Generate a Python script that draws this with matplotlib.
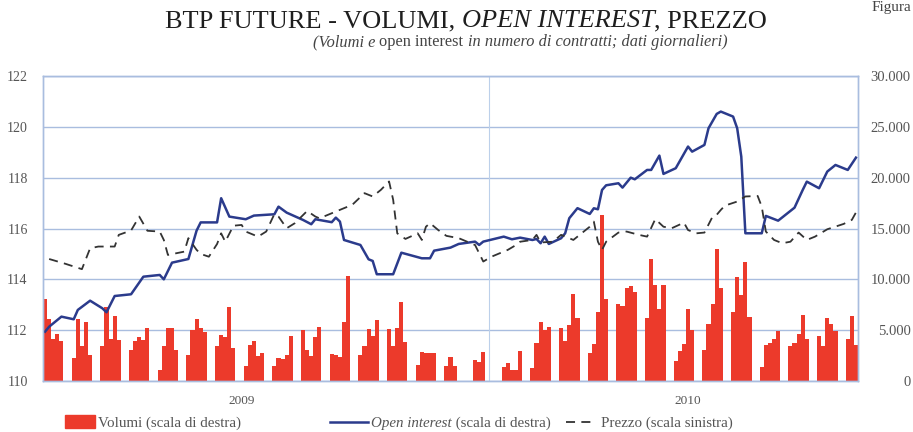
import numpy as np
import pandas as pd
import matplotlib
matplotlib.use('Agg')
import matplotlib.pyplot as plt
from matplotlib.lines import Line2D
from matplotlib.patches import Rectangle
from matplotlib.ticker import FuncFormatter, MultipleLocator

# volumi giornalieri (contratti), lun-ven, nan = mercato chiuso
volumi = [
    8100, 6060, 4140, 4600, 3900,
    2250, 6120, 3400, 5830, 2580,
    3480, 7300, 4140, 6390, 4070,
    3080, 3970, 4340, 4070, 5230,
    1090, 3480, 5230, 5230, 3080,
    2580, 5060, 6120, 5230, 4800,
    3480, 4570, 4340, 7300, 3240,
    1490, 3580, 3900, 2420, 2750,
    1490, 2250, 2150, 2580, 4400,
    4970, 3080, 2420, 4340, 5300,
    2650, 2580, 2320, 5830, 10300,
    2580, 3400, 5130, 4400, 5990,
    5130, 3480, 5230, 7780, 3800,
    1590, 2850, 2750, 2750, 2750,
    1490, 2400, 1480, np.nan, np.nan,
    2100, 1880, 2860, np.nan, np.nan,
    1380, 1780, 1050, 1050, 2930,
    1280, 3750, 5820, 5000, 5330,
    5230, 3920, 5490, 8520, 6150,
    2800, 3680, 6810, 16290, 8060,
    7530, 7400, 9110, 9380, 8720,
    6200, 12000, 9450, 7100, 9400,
    1970, 2960, 3620, 7070, 5000,
    3030, 5590, 7570, 13000, 9110,
    6810, 10260, 8460, 11680, 6320,
    1380, 3550, 3690, 4110, 4940,
    3450, 3780, 4670, 6510, 4110,
    4440, 3450, 6190, 5590, 4940,
    4180, 6420, 3550,
]
giorni = pd.bdate_range('2009-09-14', '2010-03-31')

oi_date = ['2009-09-14', '2009-09-15', '2009-09-18', '2009-09-21', '2009-09-22', '2009-09-25',
           '2009-09-28', '2009-09-29', '2009-10-01', '2009-10-05', '2009-10-08', '2009-10-12',
           '2009-10-13', '2009-10-15', '2009-10-19', '2009-10-21', '2009-10-22', '2009-10-26',
           '2009-10-27', '2009-10-29', '2009-11-02', '2009-11-04', '2009-11-09', '2009-11-10',
           '2009-11-12', '2009-11-16', '2009-11-18', '2009-11-19', '2009-11-23', '2009-11-24',
           '2009-11-25', '2009-11-26', '2009-11-30', '2009-12-02', '2009-12-03', '2009-12-04',
           '2009-12-08', '2009-12-10', '2009-12-15', '2009-12-17', '2009-12-18', '2009-12-22',
           '2009-12-24', '2009-12-28', '2009-12-29', '2009-12-30', '2010-01-04', '2010-01-06',
           '2010-01-08', '2010-01-11', '2010-01-12', '2010-01-13', '2010-01-14', '2010-01-15',
           '2010-01-18', '2010-01-19', '2010-01-20', '2010-01-22', '2010-01-25', '2010-01-26',
           '2010-01-27', '2010-01-28', '2010-01-29', '2010-02-01', '2010-02-02', '2010-02-04',
           '2010-02-05', '2010-02-08', '2010-02-09', '2010-02-11', '2010-02-12', '2010-02-15',
           '2010-02-18', '2010-02-19', '2010-02-22', '2010-02-23', '2010-02-25', '2010-02-26',
           '2010-03-01', '2010-03-02', '2010-03-03', '2010-03-04', '2010-03-08', '2010-03-09',
           '2010-03-12', '2010-03-16', '2010-03-18', '2010-03-19', '2010-03-22', '2010-03-24',
           '2010-03-26', '2010-03-29', '2010-03-31']
oi_val = [4850, 5340, 6330, 6070, 6990, 7900,
          7150, 6760, 8360, 8530, 10260, 10430,
          10000, 11640, 12000, 14790, 15600, 15600,
          17980, 16170, 15910, 16270, 16400, 17150,
          16560, 15840, 15420, 15910, 15620, 16070,
          15680, 13870, 13380, 11970, 11810, 10500,
          10500, 12620, 12070, 12070, 12820, 13120,
          13480, 13710, 13380, 13710, 14200, 13940,
          14100, 13870, 13970, 13550, 14200, 13480,
          14040, 14530, 16010, 17000, 16430, 16990,
          16890, 18790, 19250, 19450, 19020, 20000,
          19840, 20760, 20760, 22170, 20370, 20930,
          23060, 22560, 23220, 24860, 26270, 26500,
          26010, 24860, 22070, 14530, 14530, 16240,
          15770, 17050, 18790, 19610, 18960, 20600,
          21250, 20760, 21970]

prezzo_date = ['2009-09-15', '2009-09-19', '2009-09-23', '2009-09-25', '2009-09-27', '2009-10-01',
               '2009-10-02', '2009-10-05', '2009-10-07', '2009-10-09', '2009-10-12', '2009-10-13',
               '2009-10-14', '2009-10-18', '2009-10-19', '2009-10-21', '2009-10-22', '2009-10-24',
               '2009-10-26', '2009-10-27', '2009-10-28', '2009-10-30', '2009-11-01', '2009-11-02',
               '2009-11-05', '2009-11-07', '2009-11-09', '2009-11-10', '2009-11-12', '2009-11-14',
               '2009-11-17', '2009-11-19', '2009-11-20', '2009-11-23', '2009-11-26', '2009-11-28',
               '2009-12-01', '2009-12-03', '2009-12-05', '2009-12-07', '2009-12-08', '2009-12-09',
               '2009-12-11', '2009-12-14', '2009-12-15', '2009-12-16', '2009-12-17', '2009-12-19',
               '2009-12-21', '2009-12-24', '2009-12-28', '2009-12-30', '2010-01-01', '2010-01-05',
               '2010-01-07', '2010-01-08', '2010-01-11', '2010-01-12', '2010-01-13', '2010-01-16',
               '2010-01-18', '2010-01-21', '2010-01-23', '2010-01-25', '2010-01-26', '2010-01-27',
               '2010-01-28', '2010-01-29', '2010-02-01', '2010-02-03', '2010-02-06', '2010-02-08',
               '2010-02-10', '2010-02-12', '2010-02-14', '2010-02-17', '2010-02-18', '2010-02-20',
               '2010-02-22', '2010-02-24', '2010-02-25', '2010-02-26', '2010-02-27', '2010-03-02',
               '2010-03-04', '2010-03-07', '2010-03-08', '2010-03-09', '2010-03-11', '2010-03-13',
               '2010-03-15', '2010-03-17', '2010-03-19', '2010-03-21', '2010-03-24', '2010-03-28',
               '2010-03-30', '2010-03-31']
prezzo_val = [114.80, 114.61, 114.40, 115.22, 115.29, 115.29,
              115.75, 115.92, 116.47, 115.91, 115.88, 115.55,
              114.96, 115.09, 115.62, 115.16, 115.00, 114.89,
              115.39, 115.81, 115.48, 116.11, 116.14, 115.88,
              115.68, 115.88, 116.57, 116.47, 116.01, 116.21,
              116.69, 116.47, 116.40, 116.60, 116.80, 116.93,
              117.39, 117.26, 117.52, 117.85, 117.13, 115.81,
              115.59, 115.81, 115.55, 116.07, 116.21, 115.94,
              115.71, 115.62, 115.35, 114.70, 114.89, 115.16,
              115.35, 115.48, 115.55, 115.75, 115.45, 115.48,
              115.75, 115.55, 115.81, 116.07, 116.27, 115.48,
              115.16, 115.48, 115.84, 115.88, 115.75, 115.68,
              116.37, 116.07, 116.01, 116.23, 115.94, 115.81,
              115.84, 116.47, 116.54, 116.73, 116.90, 117.06,
              117.26, 117.28, 116.86, 115.88, 115.55, 115.42,
              115.48, 115.84, 115.55, 115.68, 115.97, 116.18,
              116.34, 116.63]

W, H = 913, 432
SERIF = ['Liberation Serif', 'DejaVu Serif']
ROSSO = '#ec3a2b'
BLU = '#2b3b8c'
GRIGLIA = '#a9bddf'
TESTO = '#555555'

plt.rcParams['font.family'] = SERIF

fig = plt.figure(figsize=(W / 100, H / 100), dpi=100)
ax = fig.add_axes([43 / W, 1 - 381 / H, (858 - 43) / W, (381 - 76) / H])

ax.bar(giorni, volumi, width=1.0, color=ROSSO, linewidth=0, zorder=2)
ax.plot(pd.to_datetime(oi_date), oi_val, color=BLU, lw=1.8, zorder=3)
ax.set_ylim(0, 30000)
ax.yaxis.set_major_locator(MultipleLocator(5000))
ax.yaxis.set_major_formatter(FuncFormatter(lambda v, p: f'{int(v):,}'.replace(',', '.')))
ax.set_xlim(pd.Timestamp('2009-09-13 12:00'), pd.Timestamp('2010-03-31 12:00'))
ax.grid(axis='y', color=GRIGLIA, lw=1.0, zorder=0)
ax.axvline(pd.Timestamp('2009-12-31 12:00'), color='#bcd0ea', lw=0.8, zorder=1)
ax.set_axisbelow(True)
ax.set_xticks([])

axp = ax.twinx()
axp.plot(pd.to_datetime(prezzo_date), prezzo_val, color='#333333', lw=1.3,
         dashes=(5, 3.5), zorder=4)
axp.set_ylim(110, 122)
axp.yaxis.set_major_locator(MultipleLocator(2))
axp.set_xlim(ax.get_xlim())

ax.yaxis.tick_right()
axp.yaxis.tick_left()
ax.tick_params(axis='y', length=0, pad=38, labelsize=10.5, labelcolor=TESTO)
for lab in ax.get_yticklabels():
    lab.set_horizontalalignment('right')
axp.tick_params(axis='y', length=0, pad=11, labelsize=10, labelcolor=TESTO)
for a in (ax, axp):
    for s in a.spines.values():
        s.set_color(GRIGLIA)
        s.set_linewidth(1.0)

ax.text(pd.Timestamp('2009-11-01'), -0.045, '2009', transform=ax.get_xaxis_transform(),
        ha='center', va='top', fontsize=9.5, color=TESTO)
ax.text(pd.Timestamp('2010-02-18'), -0.045, '2010', transform=ax.get_xaxis_transform(),
        ha='center', va='top', fontsize=9.5, color=TESTO)

renderer = fig.canvas.get_renderer()


def rich_text(x_px, y_px, parts, size, color, center=True):
    # pezzi di testo con stili diversi sulla stessa riga
    texts = [fig.text(0, 0, s, fontsize=size, style=st, color=color, va='baseline')
             for s, st in parts]
    widths = [t.get_window_extent(renderer).width for t in texts]
    x0 = x_px - sum(widths) / 2 if center else x_px
    for t, w in zip(texts, widths):
        t.set_position((x0 / W, 1 - y_px / H))
        x0 += w


rich_text(466, 27, [('BTP FUTURE - VOLUMI, ', 'normal'), ('OPEN INTEREST', 'italic'),
                    (', PREZZO', 'normal')], 19, '#1e1e1e')
rich_text(520, 46, [('(Volumi e ', 'italic'), ('open interest ', 'normal'),
                    ('in numero di contratti; dati giornalieri)', 'italic')], 11.8, '#444444')
fig.text(911 / W, 1 - 1 / H, 'Figura', fontsize=11, color='#444444', ha='right', va='top')

# legenda
fig.add_artist(Rectangle((65 / W, 1 - 428 / H), 30 / W, 13 / H, color=ROSSO,
                         transform=fig.transFigure))
rich_text(98, 427, [('Volumi (scala di destra)', 'normal')], 10.8, TESTO, center=False)
fig.add_artist(Line2D([330 / W, 368 / W], [1 - 422 / H, 1 - 422 / H], color=BLU, lw=1.8,
                      transform=fig.transFigure))
rich_text(371, 427, [('Open interest', 'italic'), (' (scala di destra)', 'normal')], 10.8,
          TESTO, center=False)
fig.add_artist(Line2D([566 / W, 596 / W], [1 - 422 / H, 1 - 422 / H], color='#333333',
                      lw=1.3, dashes=(5, 3.5), transform=fig.transFigure))
rich_text(601, 427, [('Prezzo (scala sinistra)', 'normal')], 10.8, TESTO, center=False)

fig.savefig('out.png', dpi=100)
